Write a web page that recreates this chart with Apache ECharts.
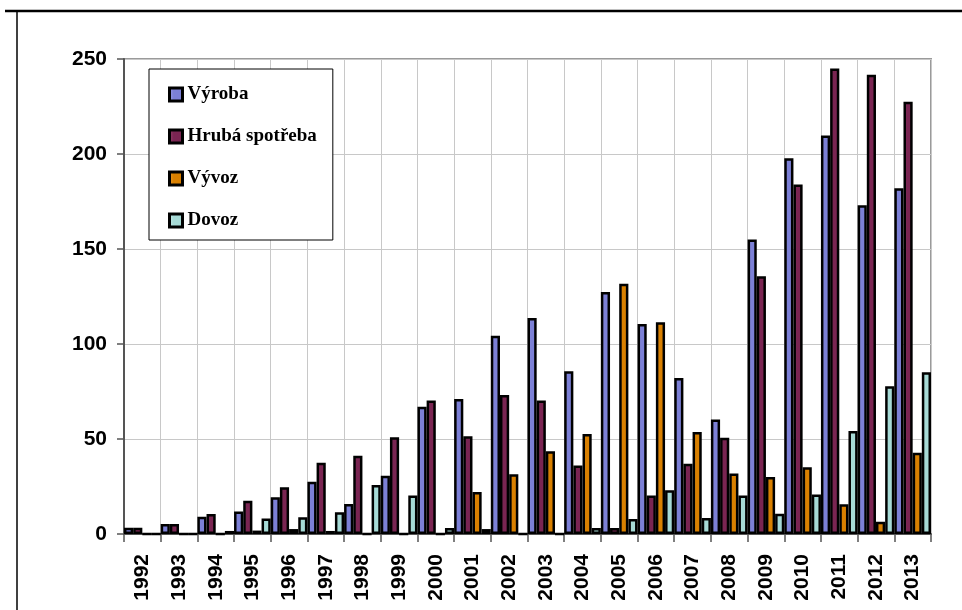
<!DOCTYPE html>
<html>
<head>
<meta charset="utf-8">
<script src="https://cdn.jsdelivr.net/npm/echarts@6/dist/echarts.min.js"></script>
<style>
  html, body { margin: 0; padding: 0; background: #fff; }
  #chart { width: 962px; height: 610px; }
</style>
</head>
<body>
<div id="chart"></div>
<script>
// Years on the category axis
const years = ['1992','1993','1994','1995','1996','1997','1998','1999','2000','2001','2002',
               '2003','2004','2005','2006','2007','2008','2009','2010','2011','2012','2013'];

// Series values
const vyroba   = [3.3, 5.3, 9.1, 11.8, 19.3, 27.5, 15.8, 30.7, 67, 71, 104.4,
                  113.7, 85.6, 127.4, 110.5, 82.1, 60.2, 155, 197.8, 209.7, 173, 182];
const hrubaSpotreba = [3.3, 5.3, 10.5, 17.5, 24.6, 37.5, 41.2, 50.9, 70.3, 51.4, 73.1,
                  70.3, 36, 3.2, 20.2, 37, 50.7, 135.6, 184, 245, 241.7, 227.5];
const vyvoz    = [0, 0, 0, 1.8, 2.6, 1.6, 0, 0, 0, 22.1, 31.4,
                  43.5, 52.6, 131.7, 111.4, 53.7, 31.8, 30, 35.1, 15.6, 6.4, 42.8];
const dovoz    = [0, 0, 1.6, 8.2, 8.8, 11.4, 25.8, 20.2, 3.2, 2.6, 0,
                  0, 3.2, 7.9, 23, 8.4, 20.2, 10.7, 20.8, 54.2, 77.7, 85.1];

const seriesNames = ['Výroba', 'Hrubá spotřeba', 'Vývoz', 'Dovoz'];
const yTicks = { min: 0, max: 250, step: 50 };

// Fill colours: a lighter strip on the left of each bar
function fill(light, base) {
  return new echarts.graphic.LinearGradient(0, 0, 1, 0, [
    { offset: 0, color: light },
    { offset: 0.35, color: base },
    { offset: 1, color: base }
  ]);
}
const fills = [
  fill('#A3A6EC', '#7C80D6'),
  fill('#9A4672', '#7A2552'),
  fill('#F0A030', '#D98000'),
  fill('#CBEEEB', '#A6DAD6')
];
const values = [vyroba, hrubaSpotreba, vyvoz, dovoz];

const chart = echarts.init(document.getElementById('chart'), null, { renderer: 'canvas' });

chart.setOption({
  animation: false,
  backgroundColor: '#fff',
  grid: {
    left: 124, right: 31, top: 59, bottom: 76,
    show: true, borderColor: '#9a9a9a', borderWidth: 2
  },
  legend: {
    orient: 'vertical',
    left: 149, top: 69,
    padding: [16, 16, 10, 19],
    backgroundColor: '#fff',
    borderColor: '#000', borderWidth: 1,
    itemWidth: 13, itemHeight: 13, itemGap: 23,
    icon: 'rect',
    itemStyle: { borderColor: '#000', borderWidth: 3 },
    textStyle: {
      fontFamily: '"Liberation Serif", "Times New Roman", serif',
      fontWeight: 'bold', fontSize: 19, color: '#000', padding: [0, 0, 0, 0],
      lineHeight: 19
    },
    data: seriesNames
  },
  xAxis: {
    type: 'category',
    data: years,
    axisLine: { lineStyle: { color: '#555', width: 2 } },
    axisTick: { show: true, length: 8, lineStyle: { color: '#555', width: 1.5 } },
    splitLine: { show: true, lineStyle: { color: '#c8c8c8', width: 1 } },
    axisLabel: {
      rotate: 90, margin: 20,
      fontFamily: '"Liberation Sans", Arial, sans-serif',
      fontWeight: 'bold', fontSize: 21, color: '#000'
    }
  },
  yAxis: {
    type: 'value',
    min: yTicks.min, max: yTicks.max, interval: yTicks.step,
    axisLine: { show: true, lineStyle: { color: '#555', width: 2 } },
    axisTick: { show: true, length: 7, lineStyle: { color: '#555', width: 1.5 } },
    splitLine: { show: true, lineStyle: { color: '#c8c8c8', width: 1 } },
    axisLabel: {
      margin: 17,
      fontFamily: '"Liberation Sans", Arial, sans-serif',
      fontWeight: 'bold', fontSize: 21, color: '#000'
    }
  },
  series: seriesNames.map((name, i) => ({
    name: name,
    type: 'bar',
    data: values[i],
    barGap: '0%',
    barCategoryGap: '0%',
    itemStyle: { color: fills[i], borderColor: '#000', borderWidth: 2.5 }
  })),
  graphic: [
    { type: 'line', shape: { x1: 5, y1: 11, x2: 962, y2: 11 }, style: { stroke: '#000', lineWidth: 2.5 } },
    { type: 'line', shape: { x1: 17, y1: 11, x2: 17, y2: 610 }, style: { stroke: '#000', lineWidth: 1.5 } }
  ]
});
</script>
</body>
</html>
